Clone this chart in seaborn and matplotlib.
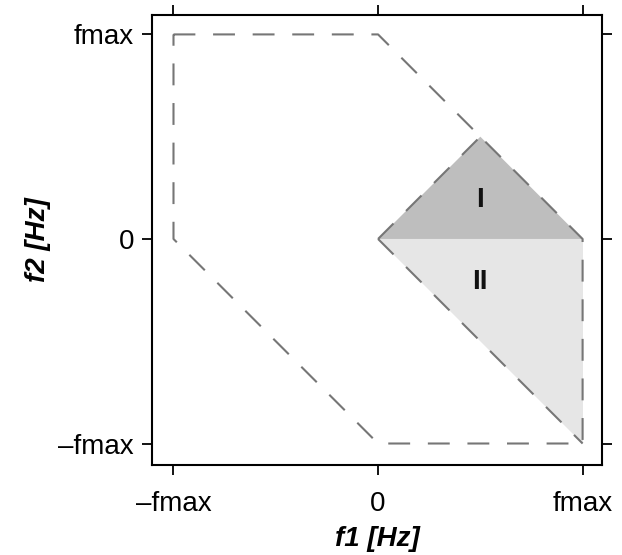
import matplotlib
matplotlib.use("Agg")
import matplotlib.pyplot as plt
import seaborn as sns

# outer hexagon (|f1|, |f2|, |f1+f2| <= fmax), closed
hex_f1 = [-1, 0, 1, 1, 0, -1, -1]
hex_f2 = [1, 1, 0, -1, -1, 0, 1]

# region I and region II triangles
reg1_f1 = [0, 0.5, 1]
reg1_f2 = [0, 0.5, 0]
reg2_f1 = [0, 1, 1]
reg2_f2 = [0, 0, -1]

# extra dashed edges inside the hexagon
edge_a_f1 = [0, 0.5]
edge_a_f2 = [0, 0.5]
edge_b_f1 = [0, 1]
edge_b_f2 = [0, -1]

region_labels = ["I", "II"]
label_f1 = [0.5, 0.5]
label_f2 = [0.19, -0.21]

tick_vals = [-1, 0, 1]
tick_labels = ["\u2013fmax", "0", "fmax"]

sns.set_theme(style="ticks")
plt.rcParams["font.family"] = ["Liberation Sans", "DejaVu Sans"]

fig = plt.figure(figsize=(6.22, 5.55), dpi=100)
ax = fig.add_axes([0.2444, 0.1622, 0.7235, 0.8108])

ax.fill(reg1_f1, reg1_f2, color="#bebebe", lw=0, zorder=1)
ax.fill(reg2_f1, reg2_f2, color="#e6e6e6", lw=0, zorder=1)

dash = dict(color="#767676", linewidth=1.5, dashes=(10.5, 8.5),
            sort=False, estimator=None, legend=False, zorder=2)
sns.lineplot(x=hex_f1, y=hex_f2, ax=ax, **dash)
sns.lineplot(x=edge_a_f1, y=edge_a_f2, ax=ax, **dash)
sns.lineplot(x=edge_b_f1, y=edge_b_f2, ax=ax, **dash)

for lab, x, y in zip(region_labels, label_f1, label_f2):
    ax.text(x, y, lab, ha="center", va="center", fontsize=20,
            fontweight="bold", color="#111111", zorder=3)

ax.set_xlim(-1.105, 1.095)
ax.set_ylim(-1.105, 1.095)
ax.set_xticks(tick_vals)
ax.set_xticklabels(tick_labels)
ax.set_yticks(tick_vals)
ax.set_yticklabels(tick_labels)
ax.tick_params(axis="both", direction="out", length=7, width=1.3,
               color="black", labelsize=20, labelcolor="black",
               top=True, right=True, labeltop=False, labelright=False)
ax.tick_params(axis="x", pad=12)
ax.tick_params(axis="y", pad=6)
for s in ax.spines.values():
    s.set_linewidth(1.5)
    s.set_color("black")

ax.set_xlabel("f1 [Hz]", fontsize=20, fontweight="bold", fontstyle="italic",
              labelpad=6, color="black")
ax.set_ylabel("f2 [Hz]", fontsize=20, fontweight="bold", fontstyle="italic",
              labelpad=5, color="black")

fig.savefig("out.png", dpi=100)
